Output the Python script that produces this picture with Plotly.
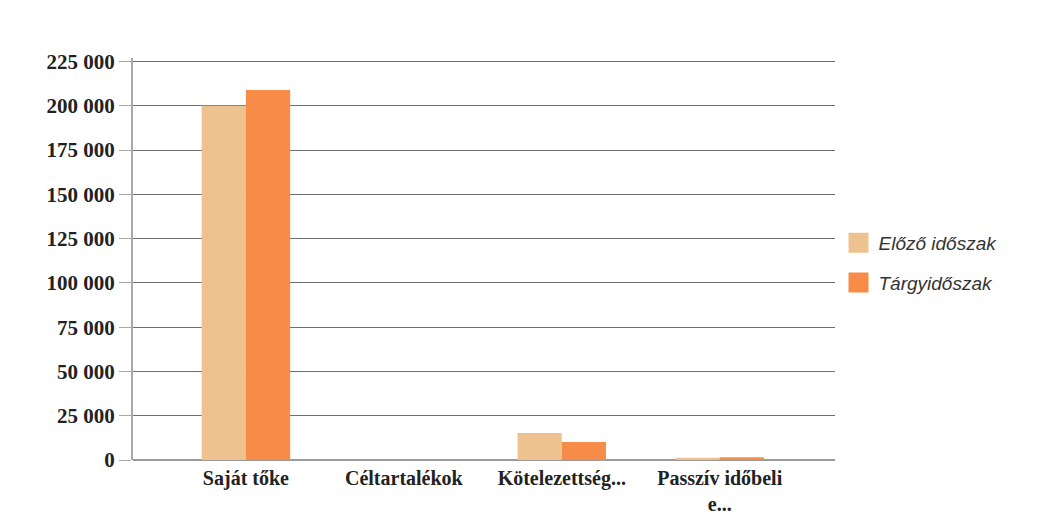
import plotly.graph_objects as go

# Kategóriák és értékek (ezer Ft)
kategoriak = ['Saját tőke', 'Céltartalékok', 'Kötelezettség...', 'Passzív időbeli<br>e...']
elozo = [200000, 0, 15300, 1200]
targy = [209000, 0, 10200, 1500]
y_tickek = [0, 25000, 50000, 75000, 100000, 125000, 150000, 175000, 200000, 225000]

szinek = {'Előző időszak': '#EEC28E', 'Tárgyidőszak': '#F78B48'}

fig = go.Figure()
fig.add_trace(go.Bar(x=kategoriak, y=elozo, name='Előző időszak', showlegend=False,
                     marker_color=szinek['Előző időszak'], marker_line_width=0))
fig.add_trace(go.Bar(x=kategoriak, y=targy, name='Tárgyidőszak', showlegend=False,
                     marker_color=szinek['Tárgyidőszak'], marker_line_width=0))

# jelmagyarázat nagyobb négyzetekkel
for nev, szin in szinek.items():
    fig.add_trace(go.Scatter(x=[None], y=[None], mode='markers', name=nev,
                             legendgroup=nev,
                             marker=dict(symbol='square', size=16, color=szin,
                                         line=dict(color=szin, width=4))))

fig.update_layout(
    width=1059, height=518,
    margin=dict(l=125, r=232, t=50, b=66),
    plot_bgcolor='white', paper_bgcolor='white',
    barmode='group', bargap=0.44, bargroupgap=0,
    separators=', ',
    font=dict(family='Liberation Serif', size=16, color='#222'),
    legend=dict(
        x=1.005, y=0.49, xanchor='left', yanchor='middle',
        font=dict(family='Liberation Sans', size=19, color='#333', style='italic'),
        itemsizing='trace', itemwidth=30, tracegroupgap=12,
    ),
    showlegend=True,
)

fig.update_xaxes(
    range=[-0.715, 3.73],
    showgrid=False, showline=False, ticks='', ticklabelstandoff=4,
    tickfont=dict(family='Liberation Serif', size=20, color='#222', weight='bold'),
)
fig.update_yaxes(
    range=[0, 227000], tickvals=y_tickek, tickformat=',d',
    showgrid=True, gridcolor='#6f6f6f', gridwidth=1,
    showline=True, linecolor='#a8a8a8', linewidth=2,
    ticks='outside', ticklen=12, tickcolor='#a8a8a8',
    zeroline=True, zerolinecolor='#9a9a9a', zerolinewidth=2,
    tickfont=dict(family='Liberation Serif', size=21, color='#222', weight='bold'),
)

fig.write_html('out.html')
